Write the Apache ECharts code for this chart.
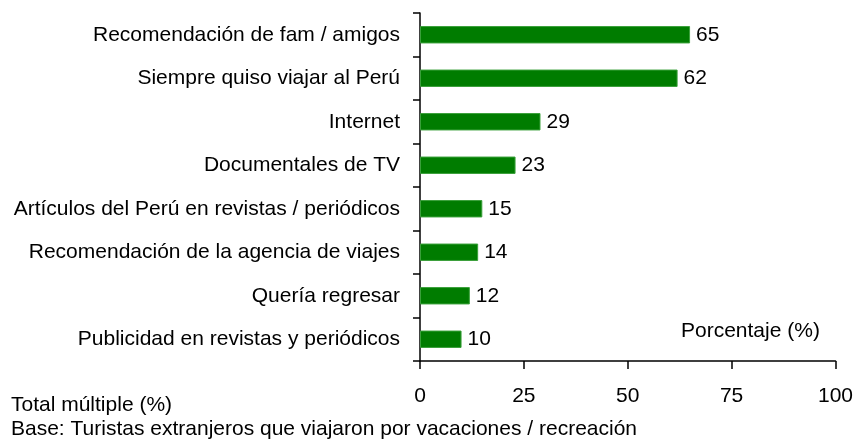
<!DOCTYPE html>
<html><head><meta charset="utf-8">
<script src="https://cdn.jsdelivr.net/npm/echarts@6/dist/echarts.min.js"></script>
<style>html,body{margin:0;padding:0;background:#fff}#c{width:856px;height:443px}</style>
</head><body><div id="c"></div>
<script>
var categories = ["Recomendación de fam / amigos","Siempre quiso viajar al Perú","Internet","Documentales de TV","Artículos del Perú en revistas / periódicos","Recomendación de la agencia de viajes","Quería regresar","Publicidad en revistas y periódicos"];
var values = [65,62,29,23,15,14,12,10];
var xTicks = [0,25,50,75,100];
var FONT = "Liberation Sans, Arial, sans-serif";
var chart = echarts.init(document.getElementById('c'));
chart.setOption({
  animation:false,
  grid:{left:420,right:20,top:13,bottom:82,containLabel:false},
  xAxis:{type:'value',min:xTicks[0],max:xTicks[xTicks.length-1],interval:25,
    axisLine:{show:true,lineStyle:{color:'#000',width:1.5}},
    axisTick:{show:true,length:8,inside:false,lineStyle:{color:'#000',width:1.5}},
    axisLabel:{color:'#000',fontSize:21,fontFamily:FONT,margin:25},
    splitLine:{show:false}},
  yAxis:{type:'category',data:categories,inverse:true,
    axisLine:{show:true,lineStyle:{color:'#000',width:1.5}},
    axisTick:{show:true,length:7,lineStyle:{color:'#000',width:1.5}},
    axisLabel:{color:'#000',fontSize:21,fontFamily:FONT,margin:20}},
  series:[{type:'bar',data:values,barWidth:'40%',
    itemStyle:{color:'#007c00',borderColor:'#3aa03a',borderWidth:1},
    label:{show:true,position:'right',distance:6,color:'#000',fontSize:21,fontFamily:FONT}}],
  graphic:[
    {type:'text',left:681,top:321,style:{text:'Porcentaje (%)',fontSize:21,fontFamily:FONT,fill:'#000'}},
    {type:'text',left:11,top:395,style:{text:'Total múltiple (%)',fontSize:21,fontFamily:FONT,fill:'#000'}},
    {type:'text',left:11,top:419,style:{text:'Base: Turistas extranjeros que viajaron por vacaciones / recreación',fontSize:21,fontFamily:FONT,fill:'#000'}}
  ]
});
</script></body></html>
